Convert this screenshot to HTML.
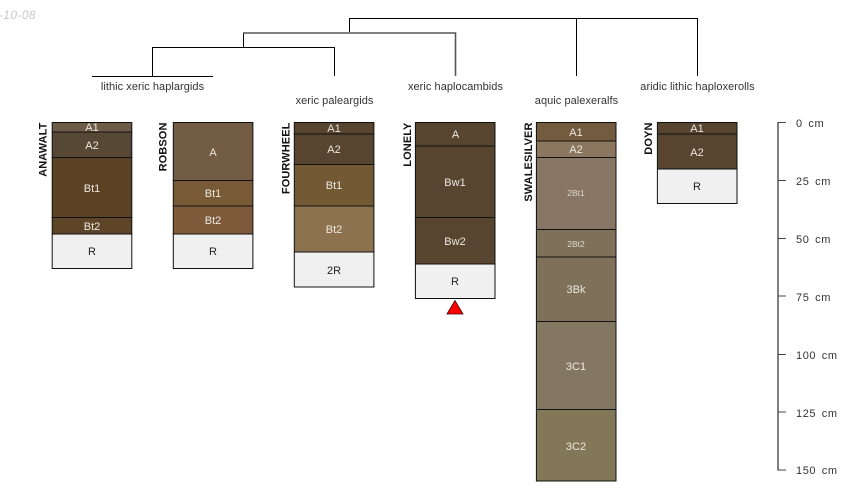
<!DOCTYPE html>
<html><head><meta charset="utf-8"><style>
html,body{margin:0;padding:0;background:#fff;width:850px;height:500px;overflow:hidden}
svg{display:block}
text{font-family:"Liberation Sans",sans-serif;font-size:11px;text-anchor:middle}
.h{fill:#ece8e0}.r{fill:#222}.s{font-size:8.5px;fill:#ddd8ce}
.n{font-weight:bold;font-size:11px;fill:#111;text-anchor:end;letter-spacing:.1px}
.t{fill:#333;letter-spacing:.05px}.d{fill:none;stroke:#000;stroke-width:1}
.b{stroke:#111;stroke-width:1}
.k{text-anchor:start;fill:#333;letter-spacing:.6px;word-spacing:2px}
</style></head><body>
<svg xmlns="http://www.w3.org/2000/svg" width="850" height="500" viewBox="0 0 850 500">
<rect width="850" height="500" fill="#fff"/>
<text x="36" y="19" style="text-anchor:end;font-style:italic;fill:#c8c8c8;font-size:12px;letter-spacing:.4px">-10-08</text>

<path class="d" d="M349.5 32V18.5H697.5V76M576.5 18.5V76M243.5 47V33M152.5 76V47.5H334.5V76M92 76.5H213"/>
<path d="M243 33H455.5V76" fill="none" stroke="#555" stroke-width="1.6"/>
<text class="t" x="152.5" y="90">lithic xeric haplargids</text>
<text class="t" x="334.5" y="104">xeric paleargids</text>
<text class="t" x="455.5" y="90">xeric haplocambids</text>
<text class="t" x="576.5" y="104">aquic palexeralfs</text>
<text class="t" x="697.5" y="90">aridic lithic haploxerolls</text>

<!-- ANAWALT -->
<g class="b">
<rect x="52.2" y="122.5" width="79.6" height="9.5" fill="#6f5c48"/>
<rect x="52.2" y="132" width="79.6" height="25.5" fill="#574735"/>
<rect x="52.2" y="157.5" width="79.6" height="60" fill="#5c4225"/>
<rect x="52.2" y="217.5" width="79.6" height="16.5" fill="#5f4527"/>
<rect x="52.2" y="234" width="79.6" height="34.5" fill="#f0f0f0"/>
</g>
<text class="h" x="92" y="131">A1</text><text class="h" x="92" y="149">A2</text><text class="h" x="92" y="192">Bt1</text><text class="h" x="92" y="230">Bt2</text><text class="r" x="92" y="255">R</text>
<text class="n" transform="translate(46.5,122.5) rotate(-90)">ANAWALT</text>

<!-- ROBSON -->
<g class="b">
<rect x="173.3" y="122.5" width="79.6" height="58" fill="#725c43"/>
<rect x="173.3" y="180.5" width="79.6" height="25.5" fill="#785b36"/>
<rect x="173.3" y="206" width="79.6" height="28" fill="#7e5a3a"/>
<rect x="173.3" y="234" width="79.6" height="34.5" fill="#f0f0f0"/>
</g>
<text class="h" x="213" y="156">A</text><text class="h" x="213" y="197">Bt1</text><text class="h" x="213" y="224">Bt2</text><text class="r" x="213" y="255">R</text>
<text class="n" transform="translate(166.5,122.5) rotate(-90)">ROBSON</text>

<!-- FOURWHEEL -->
<g class="b">
<rect x="294.3" y="122.5" width="79.6" height="11.5" fill="#574530"/>
<rect x="294.3" y="134" width="79.6" height="30.5" fill="#574530"/>
<rect x="294.3" y="164.5" width="79.6" height="41.5" fill="#735934"/>
<rect x="294.3" y="206" width="79.6" height="46" fill="#8d7250"/>
<rect x="294.3" y="252" width="79.6" height="35" fill="#f0f0f0"/>
</g>
<text class="h" x="334" y="132">A1</text><text class="h" x="334" y="153">A2</text><text class="h" x="334" y="189">Bt1</text><text class="h" x="334" y="233">Bt2</text><text class="r" x="334" y="274">2R</text>
<text class="n" transform="translate(289.5,122.5) rotate(-90)">FOURWHEEL</text>

<!-- LONELY -->
<g class="b">
<rect x="415.4" y="122.5" width="79.6" height="23.5" fill="#574530"/>
<rect x="415.4" y="146" width="79.6" height="71.5" fill="#574530"/>
<rect x="415.4" y="217.5" width="79.6" height="46.5" fill="#574530"/>
<rect x="415.4" y="264" width="79.6" height="34.5" fill="#f0f0f0"/>
</g>
<text class="h" x="455.5" y="138">A</text><text class="h" x="455" y="186">Bw1</text><text class="h" x="455" y="245">Bw2</text><text class="r" x="455" y="285">R</text>
<text class="n" transform="translate(411,122.5) rotate(-90)">LONELY</text>
<polygon points="455,300.5 447,314 463,314" fill="#ff0000" stroke="#400" stroke-width="0.8"/>

<!-- SWALESILVER -->
<g class="b">
<rect x="536.4" y="122.5" width="79.6" height="18.5" fill="#735b3f"/>
<rect x="536.4" y="141" width="79.6" height="16.5" fill="#8b7760"/>
<rect x="536.4" y="157.5" width="79.6" height="72" fill="#867663"/>
<rect x="536.4" y="229.5" width="79.6" height="27.5" fill="#7e7059"/>
<rect x="536.4" y="257" width="79.6" height="64.5" fill="#7e7059"/>
<rect x="536.4" y="321.5" width="79.6" height="88" fill="#837761"/>
<rect x="536.4" y="409.5" width="79.6" height="71.5" fill="#827756"/>
</g>
<text class="h" x="576" y="136">A1</text><text class="h" x="576" y="153">A2</text><text class="s" x="576" y="196">2Bt1</text><text class="s" x="576" y="247">2Bt2</text><text class="h" x="576" y="293">3Bk</text><text class="h" x="576" y="370">3C1</text><text class="h" x="576" y="450">3C2</text>
<text class="n" transform="translate(532,122.5) rotate(-90)">SWALESILVER</text>

<!-- DOYN -->
<g class="b">
<rect x="657.4" y="122.5" width="79.6" height="11.5" fill="#574530"/>
<rect x="657.4" y="134" width="79.6" height="35" fill="#574530"/>
<rect x="657.4" y="169" width="79.6" height="34.5" fill="#f0f0f0"/>
</g>
<text class="h" x="697" y="132">A1</text><text class="h" x="697" y="156">A2</text><text class="r" x="697" y="190">R</text>
<text class="n" transform="translate(652,122.5) rotate(-90)">DOYN</text>

<!-- scale -->
<path d="M778 122V470.5" stroke="#808080" stroke-width="2" fill="none"/>
<path d="M778 122.5H786M778 180.5H786M778 238.5H786M778 296H786M778 354.5H786M778 412H786M778 470H786" stroke="#444" stroke-width="1" fill="none"/>
<text class="k" x="796" y="127">0 cm</text>
<text class="k" x="796" y="185">25 cm</text>
<text class="k" x="796" y="243">50 cm</text>
<text class="k" x="796" y="301">75 cm</text>
<text class="k" x="796" y="359">100 cm</text>
<text class="k" x="796" y="417">125 cm</text>
<text class="k" x="796" y="474">150 cm</text>
</svg>
</body></html>
